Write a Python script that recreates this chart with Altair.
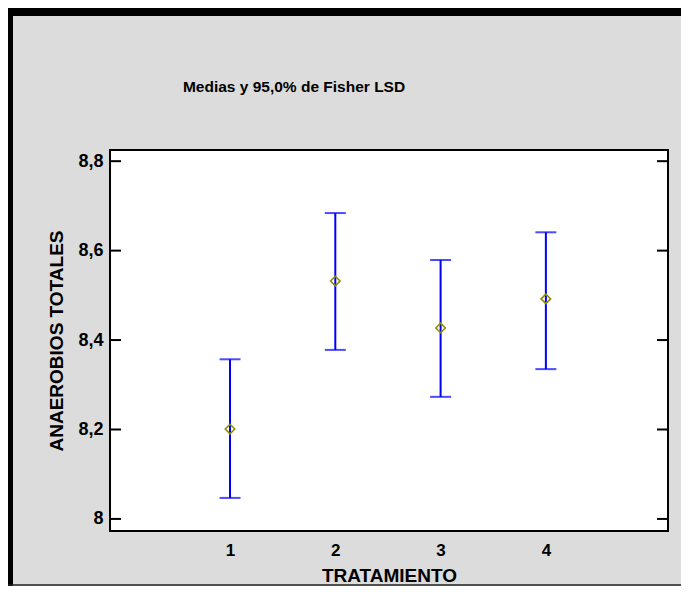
import altair as alt
import pandas as pd

tratamiento = [1, 2, 3, 4]
medias = [8.201, 8.532, 8.427, 8.492]
inferior = [8.047, 8.378, 8.273, 8.335]
superior = [8.357, 8.684, 8.579, 8.641]
y_ticks = [8.0, 8.2, 8.4, 8.6, 8.8]
x_ticks = [1, 2, 3, 4]
titulo = ["Medias y 95,0% de Fisher LSD"]

df = pd.DataFrame({"t": tratamiento, "m": medias, "lo": inferior, "hi": superior})
tk = pd.DataFrame({"v": y_ticks})
one = pd.DataFrame({"a": [0]})
tdf = pd.DataFrame({"txt": titulo})

W, H = 558, 381
FONT = "Liberation Sans"

xs = alt.Scale(domain=[-0.14, 5.16], nice=False, zero=False)
ys = alt.Scale(domain=[7.973, 8.825], nice=False, zero=False)

xaxis = alt.Axis(values=x_ticks, format="d", domain=False, ticks=False, grid=False,
                 labelFont=FONT, labelFontSize=17, labelFontWeight="bold", labelColor="black",
                 labelPadding=11, title="TRATAMIENTO", titleFont=FONT, titleFontSize=19,
                 titleFontWeight="bold", titleColor="black", titlePadding=8)
yaxis = alt.Axis(values=y_ticks, labelExpr="replace(format(datum.value, '.1~f'), '.', ',')",
                 domain=False, ticks=False, grid=False,
                 labelFont=FONT, labelFontSize=18, labelFontWeight="bold", labelColor="black",
                 labelPadding=7, title="ANAEROBIOS TOTALES", titleFont=FONT, titleFontSize=19,
                 titleFontWeight="bold", titleColor="black", titlePadding=11)

base = alt.Chart(df)
bars = base.mark_rule(color="#0000FF", strokeWidth=2).encode(
    x=alt.X("t:Q", scale=xs, axis=xaxis),
    y=alt.Y("lo:Q", scale=ys, axis=yaxis),
    y2="hi:Q",
)
cap_lo = base.mark_tick(color="#0000FF", orient="horizontal", size=21, thickness=2).encode(
    x=alt.X("t:Q", scale=xs), y=alt.Y("lo:Q", scale=ys))
cap_hi = base.mark_tick(color="#0000FF", orient="horizontal", size=21, thickness=2).encode(
    x=alt.X("t:Q", scale=xs), y=alt.Y("hi:Q", scale=ys))
pts = base.mark_point(shape="diamond", size=90, color="#8C8C00", strokeWidth=1.6, filled=False,
                      opacity=1).encode(x=alt.X("t:Q", scale=xs), y=alt.Y("m:Q", scale=ys))

left_ticks = alt.Chart(tk).mark_rule(color="black", strokeWidth=2).encode(
    x=alt.value(0), x2=alt.value(11), y=alt.Y("v:Q", scale=ys))
right_ticks = alt.Chart(tk).mark_rule(color="black", strokeWidth=2).encode(
    x=alt.value(W - 11), x2=alt.value(W), y=alt.Y("v:Q", scale=ys))

title_txt = alt.Chart(tdf).mark_text(
    font=FONT, fontSize=15.5, fontWeight="bold",
    color="black", align="center", baseline="middle").encode(
    text="txt:N", x=alt.value(184), y=alt.value(-63))

# outer frame of the picture
frame_left = alt.Chart(one).mark_rule(color="black", strokeWidth=5).encode(
    x=alt.value(-99.5), y=alt.value(-142), y2=alt.value(436))
frame_top = alt.Chart(one).mark_rule(color="black", strokeWidth=8).encode(
    x=alt.value(-102), x2=alt.value(571), y=alt.value(-138))
frame_bottom = alt.Chart(one).mark_rule(color="#222222", strokeWidth=1.5).encode(
    x=alt.value(-102), x2=alt.value(571), y=alt.value(435))

chart = alt.layer(
    frame_left, frame_top, frame_bottom, title_txt, bars, cap_lo, cap_hi, pts,
    left_ticks, right_ticks
).properties(
    width=W, height=H,
    autosize=alt.AutoSizeParams(type="none"),
    padding={"left": 102, "top": 142, "right": 13, "bottom": 55},
).configure(background="#DCDCDC").configure_view(fill="white", stroke="black", strokeWidth=2)

chart.save("out.html", embed_options={"renderer": "svg", "actions": False})
